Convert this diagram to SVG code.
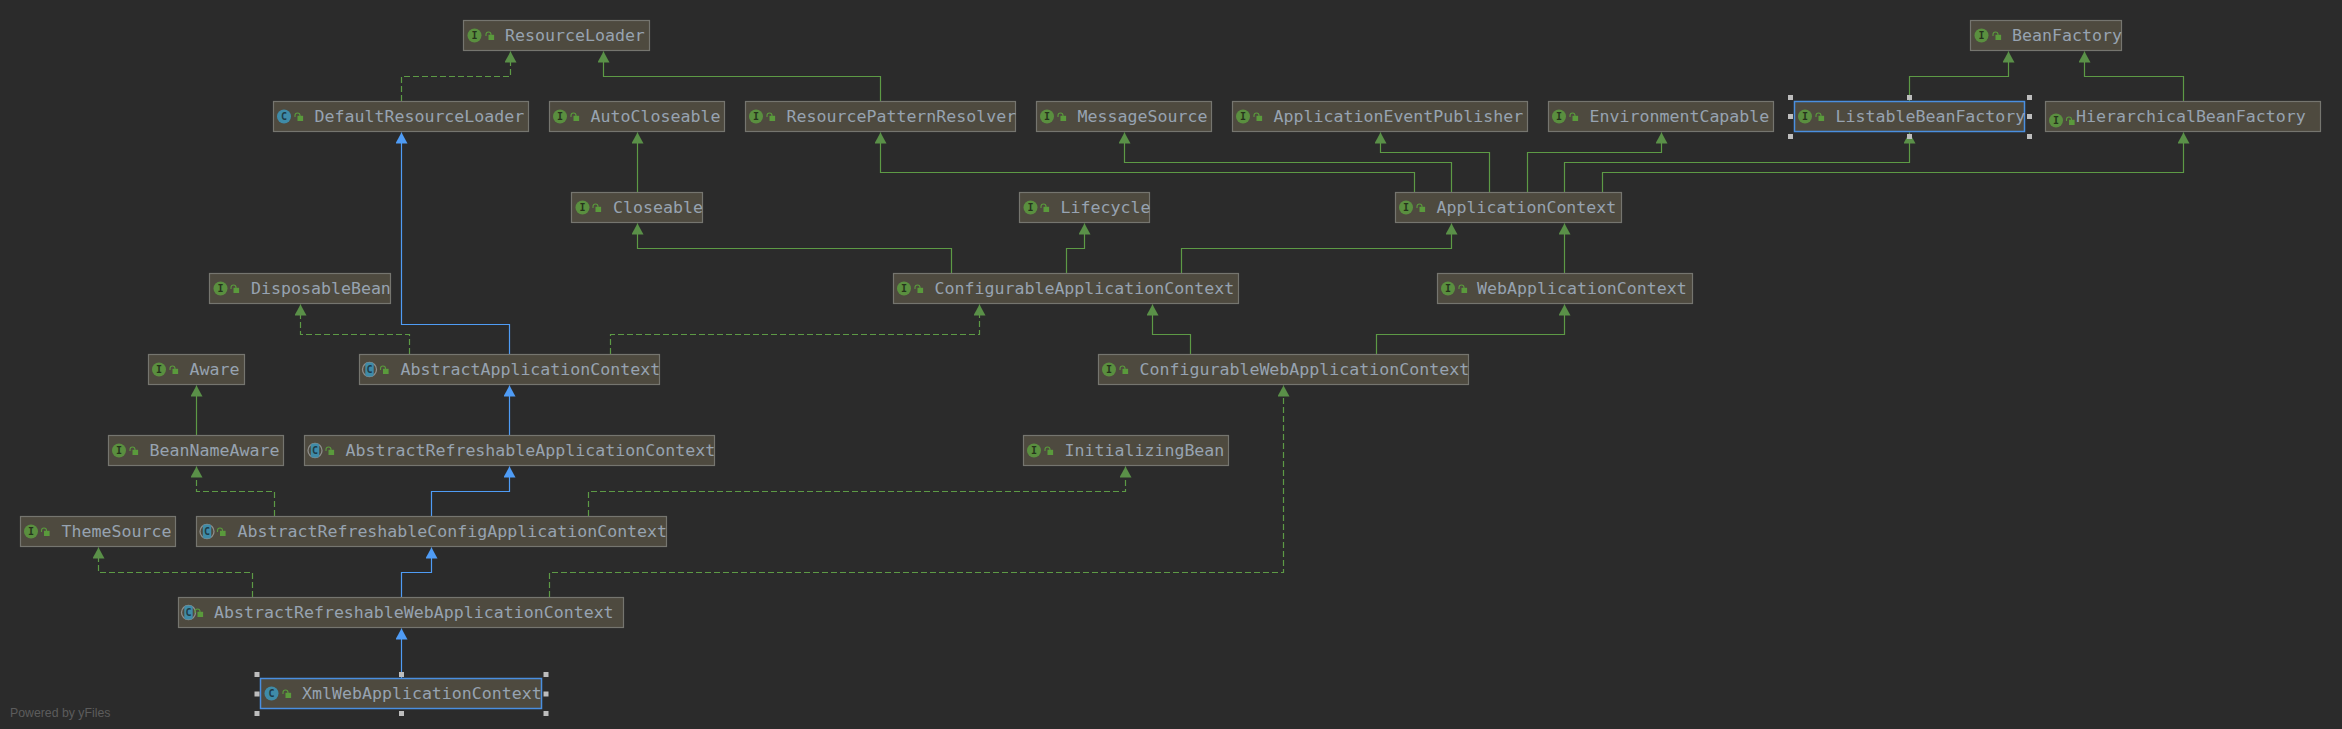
<svg xmlns="http://www.w3.org/2000/svg" width="2342" height="729" viewBox="0 0 2342 729">
<style>
.bg{fill:#2b2b2b}
.box{fill:#4e4a3f;stroke:#75756f;stroke-width:1.2}
.sel{stroke:#4a8fe0;stroke-width:1.5}
.t{font-family:"DejaVu Sans Mono","Liberation Mono",monospace;font-size:16.6px;fill:#97a3b1}
.g{font-family:"DejaVu Sans Mono","Liberation Mono",monospace;font-size:10px;font-weight:bold;text-anchor:middle}
.gi{fill:#26331c}
.gc{fill:#1e3b47}
.ci{fill:#5a8f3f}
.cc{fill:#3f8ba8}
.ring{fill:none;stroke:#8d8d8a;stroke-width:1.3}
.lk{fill:#5a9a3c}
.sh{fill:none;stroke:#5a9a3c;stroke-width:1.1}
.e{fill:none;stroke-width:1.2}
.gr{stroke:#5d9a45}
.bl{stroke:#4f9cf5}
.d{stroke-dasharray:6 3}
.h{fill:#bdbdbd}
.pw{font-family:"Liberation Sans",Arial,sans-serif;font-size:12.3px;fill:#5c5c5c}
</style>
<defs>
<marker id="ag" markerUnits="userSpaceOnUse" markerWidth="12" markerHeight="13" refX="11" refY="6" orient="auto"><path d="M0,0L11,6L0,12Z" fill="#5a9048"/></marker>
<marker id="ab" markerUnits="userSpaceOnUse" markerWidth="12" markerHeight="13" refX="11" refY="6" orient="auto"><path d="M0,0L11,6L0,12Z" fill="#4f9cf5"/></marker>
<g id="lock"><path class="sh" d="M-0.5,0.5V-1a2.5,2.5 0 0 1 5,0V-0.5"/><rect class="lk" x="2" y="-0.7" width="5.6" height="5.2"/></g>
<g id="ab-i"><circle class="ring" r="7"/><rect class="cc" x="-4.2" y="-7" width="8.4" height="14" rx="2"/></g>
</defs>
<rect class="bg" width="2342" height="729"/>
<g id="connectors">
<path class="e gr d" marker-end="url(#ag)" d="M401.5,101V76.5H510.5V51.5"/>
<path class="e gr" marker-end="url(#ag)" d="M880.5,101V76.5H603.5V51.5"/>
<path class="e bl" marker-end="url(#ab)" d="M509.5,354V324.5H401.5V132.5"/>
<path class="e gr" marker-end="url(#ag)" d="M637.5,192V132.5"/>
<path class="e gr" marker-end="url(#ag)" d="M1414.5,192V172.5H880.5V132.5"/>
<path class="e gr" marker-end="url(#ag)" d="M1451.5,192V162.5H1124.5V132.5"/>
<path class="e gr" marker-end="url(#ag)" d="M1489.5,192V152.5H1380.5V132.5"/>
<path class="e gr" marker-end="url(#ag)" d="M1527.5,192V152.5H1661.5V132.5"/>
<path class="e gr" marker-end="url(#ag)" d="M1564.5,192V162.5H1909.5V132.5"/>
<path class="e gr" marker-end="url(#ag)" d="M1602.5,192V172.5H2183.5V132.5"/>
<path class="e gr" marker-end="url(#ag)" d="M1909.5,101V76.5H2008.5V51.5"/>
<path class="e gr" marker-end="url(#ag)" d="M2183.5,101V76.5H2084.5V51.5"/>
<path class="e gr" marker-end="url(#ag)" d="M951.5,273V248.5H637.5V223.5"/>
<path class="e gr" marker-end="url(#ag)" d="M1066.5,273V248.5H1084.5V223.5"/>
<path class="e gr" marker-end="url(#ag)" d="M1181.5,273V248.5H1451.5V223.5"/>
<path class="e gr" marker-end="url(#ag)" d="M1564.5,273V223.5"/>
<path class="e gr d" marker-end="url(#ag)" d="M409.5,354V334.5H300.5V304.5"/>
<path class="e gr d" marker-end="url(#ag)" d="M610.5,354V334.5H979.5V304.5"/>
<path class="e gr" marker-end="url(#ag)" d="M1190.5,354V334.5H1152.5V304.5"/>
<path class="e gr" marker-end="url(#ag)" d="M1376.5,354V334.5H1564.5V304.5"/>
<path class="e gr" marker-end="url(#ag)" d="M196.5,435V385.5"/>
<path class="e bl" marker-end="url(#ab)" d="M509.5,435V385.5"/>
<path class="e gr d" marker-end="url(#ag)" d="M274.5,516V491.5H196.5V466.5"/>
<path class="e bl" marker-end="url(#ab)" d="M431.5,516V491.5H509.5V466.5"/>
<path class="e gr d" marker-end="url(#ag)" d="M588.5,516V491.5H1125.5V466.5"/>
<path class="e gr d" marker-end="url(#ag)" d="M252.5,597V572.5H98.5V547.5"/>
<path class="e bl" marker-end="url(#ab)" d="M401.5,597V572.5H431.5V547.5"/>
<path class="e gr d" marker-end="url(#ag)" d="M549.5,597V572.5H1283.5V385.5"/>
<path class="e bl" marker-end="url(#ab)" d="M401.5,678V628.5"/>
</g>
<g id="nodes">
<g id="ResourceLoader" transform="translate(463.5,20.5)"><rect class="box" width="186" height="30"/><circle class="ci" cx="11" cy="15" r="7"/><text class="g gi" x="11" y="18.500">I</text><use href="#lock" x="23" y="15"/><text class="t" x="41.500" y="20">ResourceLoader</text></g>
<g id="BeanFactory" transform="translate(1970.5,20.5)"><rect class="box" width="151" height="30"/><circle class="ci" cx="11" cy="15" r="7"/><text class="g gi" x="11" y="18.500">I</text><use href="#lock" x="23" y="15"/><text class="t" x="41.500" y="20">BeanFactory</text></g>
<g id="DefaultResourceLoader" transform="translate(273.5,101.5)"><rect class="box" width="255" height="30"/><circle class="cc" cx="10.5" cy="15" r="7"/><text class="g gc" x="10.5" y="18.500">C</text><use href="#lock" x="22" y="15"/><text class="t" x="41" y="20">DefaultResourceLoader</text></g>
<g id="AutoCloseable" transform="translate(549.5,101.5)"><rect class="box" width="175" height="30"/><circle class="ci" cx="10.5" cy="15" r="7"/><text class="g gi" x="10.5" y="18.500">I</text><use href="#lock" x="22" y="15"/><text class="t" x="41" y="20">AutoCloseable</text></g>
<g id="ResourcePatternResolver" transform="translate(745.5,101.5)"><rect class="box" width="270" height="30"/><circle class="ci" cx="10.5" cy="15" r="7"/><text class="g gi" x="10.5" y="18.500">I</text><use href="#lock" x="22" y="15"/><text class="t" x="41" y="20">ResourcePatternResolver</text></g>
<g id="MessageSource" transform="translate(1036.5,101.5)"><rect class="box" width="175" height="30"/><circle class="ci" cx="10.5" cy="15" r="7"/><text class="g gi" x="10.5" y="18.500">I</text><use href="#lock" x="22" y="15"/><text class="t" x="41" y="20">MessageSource</text></g>
<g id="ApplicationEventPublisher" transform="translate(1232.5,101.5)"><rect class="box" width="295" height="30"/><circle class="ci" cx="10.5" cy="15" r="7"/><text class="g gi" x="10.5" y="18.500">I</text><use href="#lock" x="22" y="15"/><text class="t" x="41" y="20">ApplicationEventPublisher</text></g>
<g id="EnvironmentCapable" transform="translate(1548.5,101.5)"><rect class="box" width="225" height="30"/><circle class="ci" cx="10.5" cy="15" r="7"/><text class="g gi" x="10.5" y="18.500">I</text><use href="#lock" x="22" y="15"/><text class="t" x="41" y="20">EnvironmentCapable</text></g>
<g id="ListableBeanFactory" transform="translate(1794.5,101.5)"><rect class="box sel" width="230" height="30"/><circle class="ci" cx="10.5" cy="15" r="7"/><text class="g gi" x="10.5" y="18.500">I</text><use href="#lock" x="22" y="15"/><text class="t" x="41" y="20">ListableBeanFactory</text></g>
<g id="HierarchicalBeanFactory" transform="translate(2045.5,101.5)"><rect class="box" width="275" height="30"/><circle class="ci" cx="10.5" cy="19" r="7"/><text class="g gi" x="10.5" y="22.500">I</text><use href="#lock" x="21.5" y="19"/><text class="t" x="30.5" y="20">HierarchicalBeanFactory</text></g>
<g id="Closeable" transform="translate(571.5,192.5)"><rect class="box" width="131" height="30"/><circle class="ci" cx="11" cy="15" r="7"/><text class="g gi" x="11" y="18.500">I</text><use href="#lock" x="22" y="15"/><text class="t" x="41.500" y="20">Closeable</text></g>
<g id="Lifecycle" transform="translate(1019.5,192.5)"><rect class="box" width="130" height="30"/><circle class="ci" cx="11" cy="15" r="7"/><text class="g gi" x="11" y="18.500">I</text><use href="#lock" x="22" y="15"/><text class="t" x="41" y="20">Lifecycle</text></g>
<g id="ApplicationContext" transform="translate(1395.5,192.5)"><rect class="box" width="226" height="30"/><circle class="ci" cx="10.5" cy="15" r="7"/><text class="g gi" x="10.5" y="18.500">I</text><use href="#lock" x="22" y="15"/><text class="t" x="41" y="20">ApplicationContext</text></g>
<g id="DisposableBean" transform="translate(209.5,273.5)"><rect class="box" width="181" height="30"/><circle class="ci" cx="11" cy="15" r="7"/><text class="g gi" x="11" y="18.500">I</text><use href="#lock" x="22" y="15"/><text class="t" x="41.500" y="20">DisposableBean</text></g>
<g id="ConfigurableApplicationContext" transform="translate(893.5,273.5)"><rect class="box" width="345" height="30"/><circle class="ci" cx="10.5" cy="15" r="7"/><text class="g gi" x="10.5" y="18.500">I</text><use href="#lock" x="22" y="15"/><text class="t" x="41" y="20">ConfigurableApplicationContext</text></g>
<g id="WebApplicationContext" transform="translate(1437.5,273.5)"><rect class="box" width="255" height="30"/><circle class="ci" cx="10.5" cy="15" r="7"/><text class="g gi" x="10.5" y="18.500">I</text><use href="#lock" x="22" y="15"/><text class="t" x="39.5" y="20">WebApplicationContext</text></g>
<g id="Aware" transform="translate(148.5,354.5)"><rect class="box" width="96" height="30"/><circle class="ci" cx="10.5" cy="15" r="7"/><text class="g gi" x="10.5" y="18.500">I</text><use href="#lock" x="22" y="15"/><text class="t" x="41" y="20">Aware</text></g>
<g id="AbstractApplicationContext" transform="translate(359.5,354.5)"><rect class="box" width="300" height="30"/><use href="#ab-i" x="10" y="15"/><text class="g gc" x="10" y="18.500">C</text><use href="#lock" x="21.5" y="15"/><text class="t" x="41" y="20">AbstractApplicationContext</text></g>
<g id="ConfigurableWebApplicationContext" transform="translate(1098.5,354.5)"><rect class="box" width="370" height="30"/><circle class="ci" cx="10.5" cy="15" r="7"/><text class="g gi" x="10.5" y="18.500">I</text><use href="#lock" x="22" y="15"/><text class="t" x="41" y="20">ConfigurableWebApplicationContext</text></g>
<g id="BeanNameAware" transform="translate(108.5,435.5)"><rect class="box" width="175" height="30"/><circle class="ci" cx="10.5" cy="15" r="7"/><text class="g gi" x="10.5" y="18.500">I</text><use href="#lock" x="22" y="15"/><text class="t" x="41" y="20">BeanNameAware</text></g>
<g id="AbstractRefreshableApplicationContext" transform="translate(304.5,435.5)"><rect class="box" width="410" height="30"/><use href="#ab-i" x="10.5" y="15"/><text class="g gc" x="10.5" y="18.500">C</text><use href="#lock" x="22" y="15"/><text class="t" x="41" y="20">AbstractRefreshableApplicationContext</text></g>
<g id="InitializingBean" transform="translate(1023.5,435.5)"><rect class="box" width="205" height="30"/><circle class="ci" cx="10.5" cy="15" r="7"/><text class="g gi" x="10.5" y="18.500">I</text><use href="#lock" x="22" y="15"/><text class="t" x="41" y="20">InitializingBean</text></g>
<g id="ThemeSource" transform="translate(20.5,516.5)"><rect class="box" width="155" height="30"/><circle class="ci" cx="10.5" cy="15" r="7"/><text class="g gi" x="10.5" y="18.500">I</text><use href="#lock" x="21.5" y="15"/><text class="t" x="41" y="20">ThemeSource</text></g>
<g id="AbstractRefreshableConfigApplicationContext" transform="translate(196.5,516.5)"><rect class="box" width="470" height="30"/><use href="#ab-i" x="10.5" y="15"/><text class="g gc" x="10.5" y="18.500">C</text><use href="#lock" x="21.5" y="15"/><text class="t" x="41" y="20">AbstractRefreshableConfigApplicationContext</text></g>
<g id="AbstractRefreshableWebApplicationContext" transform="translate(178.5,597.5)"><rect class="box" width="445" height="30"/><use href="#ab-i" x="10" y="15"/><text class="g gc" x="10" y="18.500">C</text><use href="#lock" x="17" y="15"/><text class="t" x="35.5" y="20">AbstractRefreshableWebApplicationContext</text></g>
<g id="XmlWebApplicationContext" transform="translate(260.5,678.5)"><rect class="box sel" width="281" height="30"/><circle class="cc" cx="11" cy="15" r="7"/><text class="g gc" x="11" y="18.500">C</text><use href="#lock" x="23" y="15"/><text class="t" x="41.500" y="20">XmlWebApplicationContext</text></g>
</g>
<g id="handles">
<rect class="h" x="1788" y="95" width="5" height="5"/><rect class="h" x="1907" y="95" width="5" height="5"/><rect class="h" x="2027" y="95" width="5" height="5"/>
<rect class="h" x="1788" y="114" width="5" height="5"/><rect class="h" x="2027" y="114" width="5" height="5"/>
<rect class="h" x="1788" y="134" width="5" height="5"/><rect class="h" x="1907" y="134" width="5" height="5"/><rect class="h" x="2027" y="134" width="5" height="5"/>
<rect class="h" x="254.500" y="672" width="5" height="5"/><rect class="h" x="399" y="672" width="5" height="5"/><rect class="h" x="543.500" y="672" width="5" height="5"/>
<rect class="h" x="254.500" y="691.500" width="5" height="5"/><rect class="h" x="543.500" y="691.500" width="5" height="5"/>
<rect class="h" x="254.500" y="711" width="5" height="5"/><rect class="h" x="399" y="711" width="5" height="5"/><rect class="h" x="543.500" y="711" width="5" height="5"/>
</g>
<text class="pw" x="10" y="717">Powered by yFiles</text>
</svg>
